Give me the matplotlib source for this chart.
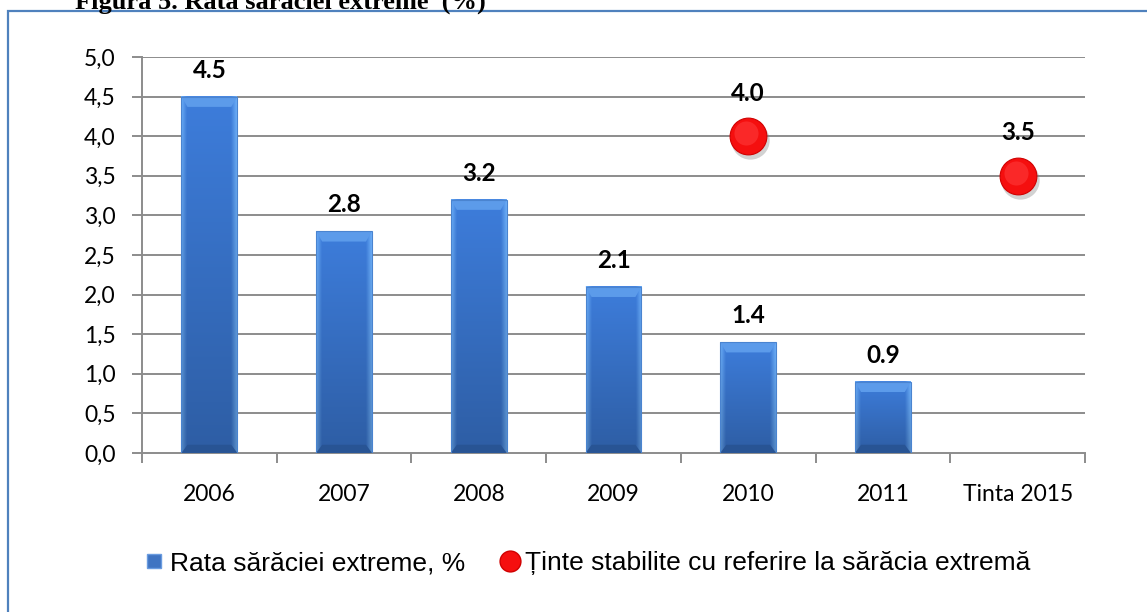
import numpy as np
import matplotlib.pyplot as plt
from matplotlib.patches import Polygon, Rectangle
from matplotlib.lines import Line2D
from matplotlib.ticker import FixedLocator, FuncFormatter
import matplotlib.transforms as mtransforms

categories = ["2006", "2007", "2008", "2009", "2010", "2011", "Tinta 2015"]
rate_values = [4.5, 2.8, 3.2, 2.1, 1.4, 0.9]          # Rata saraciei extreme, %
target_pos = [4, 6]                                    # index of 2010 and Tinta 2015
target_values = [4.0, 3.5]                             # tinte stabilite
title = "Figura 5. Rata sărăciei extreme  (%)"
bar_label = "Rata sărăciei extreme, %"
dot_label = "Ținte stabilite cu referire la sărăcia extremă"

tick_font = "Lato"
legend_font = "Liberation Sans"

fig = plt.figure(figsize=(11.47, 6.12), dpi=100)
W, H = 1147, 612

# blue frame (only left and top edges are visible in the reference)
fig.patches.append(Rectangle((8 / W, -0.1), 1.2, 1 - 11 / H + 0.1, transform=fig.transFigure,
                             fill=False, edgecolor="#4F81BD", lw=1.6))
fig.text(75 / W, 1 - 9 / H, title, fontsize=19, fontweight="bold",
         family="Liberation Serif", va="baseline", ha="left")

ax = fig.add_axes([142 / W, 1 - 453 / H, (1085 - 142) / W, (453 - 57) / H])
ax.set_xlim(-0.5, len(categories) - 0.5)
ax.set_ylim(0, 5)

# grid
for yv in np.arange(0.5, 5.01, 0.5):
    ax.axhline(yv, color="#8C8C8C", lw=1.4, zorder=1)

bar_w = 0.415
x = np.arange(len(rate_values))

# bar gradient: light edges, darker centre, darker toward bottom
nx = 60
u = np.linspace(-1, 1, nx)
edge = np.clip((np.abs(u) - 0.8) / 0.2, 0, 1)
light = np.array([0.42, 0.68, 0.97])
mid = np.array([0.24, 0.49, 0.86])
for xi, v in zip(x, rate_values):
    ny = 80
    t = np.linspace(0, 1, ny)[:, None, None]  # 0 top .. 1 bottom
    base = mid * (1 - 0.25 * t)
    img = base * (1 - edge[None, :, None]) + (light * (1 - 0.2 * t)) * edge[None, :, None]
    ax.imshow(img, extent=[xi - bar_w / 2, xi + bar_w / 2, 0, v], aspect="auto",
              zorder=2, interpolation="bilinear")
    # top bevel
    bh = 0.13
    bx = 0.045
    ax.add_patch(Polygon([[xi - bar_w / 2, v], [xi + bar_w / 2, v],
                          [xi + bar_w / 2 - bx, v - bh], [xi - bar_w / 2 + bx, v - bh]],
                         closed=True, facecolor="#5C9BEA", edgecolor="none", zorder=3))
    # bottom bevel
    ax.add_patch(Polygon([[xi - bar_w / 2, 0], [xi + bar_w / 2, 0],
                          [xi + bar_w / 2 - bx, bh * 0.8], [xi - bar_w / 2 + bx, bh * 0.8]],
                         closed=True, facecolor="#285494", edgecolor="none", zorder=3))
    ax.add_patch(Rectangle((xi - bar_w / 2, 0), bar_w, v, fill=False,
                           edgecolor="#4A84D0", lw=0.8, zorder=4))
    ax.annotate(f"{v:.1f}", (xi, v), xytext=(0, 19), textcoords="offset points",
                ha="center", va="center", fontsize=17.5, fontweight="bold",
                family=tick_font, zorder=6)

# target dots with soft shadow
shadow = mtransforms.offset_copy(ax.transData, fig=fig, x=2, y=-4, units="dots")
ax.scatter(target_pos, target_values, s=760, color="#7F7F7F", alpha=0.35,
           transform=shadow, zorder=4, linewidths=0)
ax.scatter(target_pos, target_values, s=700, color="#F50F0F", zorder=5,
           edgecolors="#D00000", linewidths=0.8)
hl = mtransforms.offset_copy(ax.transData, fig=fig, x=-2, y=3, units="dots")
ax.scatter(target_pos, target_values, s=300, color="#FF3A3A", alpha=0.6,
           transform=hl, zorder=5, linewidths=0)
for xi, v in zip(target_pos, target_values):
    ax.annotate(f"{v:.1f}", (xi, v), xytext=(0, 31), textcoords="offset points",
                ha="center", va="center", fontsize=17.5, fontweight="bold",
                family=tick_font, zorder=6)

# axes styling
for s in ["top", "right"]:
    ax.spines[s].set_visible(False)
for s in ["left", "bottom"]:
    ax.spines[s].set_color("#8C8C8C")
    ax.spines[s].set_linewidth(1.4)
ax.spines["left"].set_zorder(1)

ax.set_yticks(np.arange(0, 5.01, 0.5))
ax.yaxis.set_major_formatter(FuncFormatter(lambda v, p: f"{v:.1f}".replace(".", ",")))
ax.tick_params(axis="y", length=7, width=1.4, color="#8C8C8C", pad=12,
               labelsize=16.5, direction="out")
ax.set_xticks(list(range(len(categories))))
ax.set_xticklabels(categories)
ax.xaxis.set_minor_locator(FixedLocator(np.arange(-0.5, len(categories), 1.0)))
ax.tick_params(axis="x", which="major", length=0, pad=22, labelsize=16.5)
ax.tick_params(axis="x", which="minor", length=7, width=1.4, color="#8C8C8C", direction="out")
for lab in ax.get_xticklabels() + ax.get_yticklabels():
    lab.set_family(tick_font)

handles = [Line2D([], [], marker="s", ls="", markersize=10, markerfacecolor="#3F74C2",
                  markeredgecolor="#6A9CE0"),
           Line2D([], [], marker="o", ls="", markersize=15, markerfacecolor="#F50F0F",
                  markeredgecolor="#D00000")]
fig.legend(handles, [bar_label, dot_label], loc="center", ncol=2, frameon=False,
           bbox_to_anchor=(587 / W, 1 - 563 / H), prop={"family": legend_font, "size": 19},
           handlelength=0.8, handletextpad=0.2, columnspacing=1.3)

fig.savefig("out.png", dpi=100)
